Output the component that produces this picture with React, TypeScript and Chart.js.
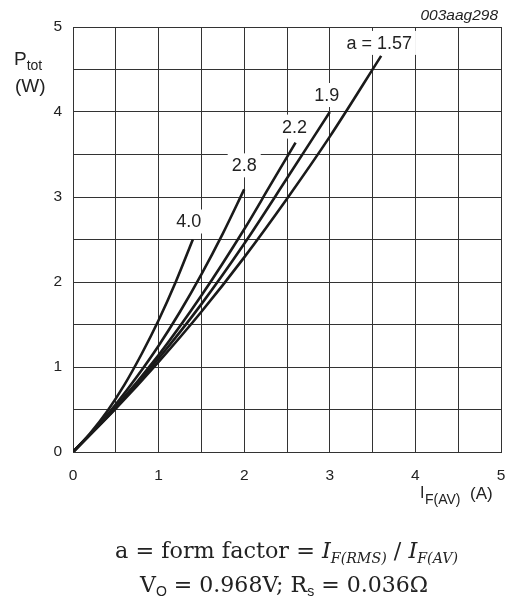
import React, { useEffect, useRef } from "react";
import { Chart, registerables } from "chart.js";

Chart.register(...registerables);

// Curve data (I_F(AV) in A, P_tot in W)
const current40 = [0, 0.2, 0.4, 0.6, 0.8, 1.0, 1.2, 1.4];
const power40 = [0, 0.22, 0.48, 0.79, 1.15, 1.55, 2.0, 2.5];
const current28 = [0, 0.25, 0.5, 0.75, 1.0, 1.25, 1.5, 1.75, 2.0];
const power28 = [0, 0.26, 0.56, 0.89, 1.25, 1.65, 2.09, 2.57, 3.09];
const current22 = [0, 0.5, 1.0, 1.5, 2.0, 2.3, 2.6];
const power22 = [0, 0.53, 1.14, 1.84, 2.62, 3.13, 3.64];
const current19 = [0, 0.5, 1.0, 1.5, 2.0, 2.5, 3.0];
const power19 = [0, 0.52, 1.1, 1.74, 2.45, 3.22, 4.0];
const current157 = [0, 0.5, 1.0, 1.5, 2.0, 2.5, 3.0, 3.6];
const power157 = [0, 0.51, 1.06, 1.65, 2.29, 2.98, 3.71, 4.66];

const curveLabels = ["4.0", "2.8", "2.2", "1.9", "a = 1.57"];
const xTickValues = [0, 1, 2, 3, 4, 5];
const yTickValues = [0, 1, 2, 3, 4, 5];

// label offsets (px) from each curve's end point
const labelOffsets = [
  [-4, -18],
  [0, -24],
  [-1, -16],
  [-3, -17],
  [-2, -13],
];

const SANS = "'Liberation Sans', Arial, sans-serif";
const SERIF = "'DejaVu Serif', 'Liberation Serif', serif";

function pts(xs: number[], ys: number[]) {
  return xs.map((x, i) => ({ x, y: ys[i] }));
}

const overlayPlugin = {
  id: "overlay",
  afterDatasetsDraw(chart: any) {
    const ctx = chart.ctx as CanvasRenderingContext2D;
    const area = chart.chartArea;
    ctx.save();
    ctx.font = `18px ${SANS}`;
    ctx.textAlign = "center";
    ctx.textBaseline = "middle";
    chart.data.datasets.forEach((ds: any, i: number) => {
      const meta = chart.getDatasetMeta(i);
      const last = meta.data[meta.data.length - 1];
      const cx = last.x + labelOffsets[i][0];
      const cy = last.y + labelOffsets[i][1];
      const w = ctx.measureText(curveLabels[i]).width + 8;
      let top = cy - 12;
      if (top < area.top + 1) top = area.top + 1;
      ctx.fillStyle = "#ffffff";
      ctx.fillRect(cx - w / 2, top, w, cy + 12 - top);
      ctx.fillStyle = "#222";
      ctx.fillText(curveLabels[i], cx, cy + 1);
    });
    ctx.restore();
  },
  afterDraw(chart: any) {
    const ctx = chart.ctx as CanvasRenderingContext2D;
    ctx.save();
    ctx.fillStyle = "#222";
    ctx.textBaseline = "alphabetic";
    ctx.textAlign = "left";

    // Figure code
    ctx.font = `italic 15.5px ${SANS}`;
    ctx.textAlign = "right";
    ctx.fillText("003aag298", 498, 20);
    ctx.textAlign = "left";

    // Y axis title
    ctx.font = `19px ${SANS}`;
    ctx.fillText("P", 14, 65);
    const pw = ctx.measureText("P").width;
    ctx.font = `14px ${SANS}`;
    ctx.fillText("tot", 14 + pw, 70);
    ctx.font = `19px ${SANS}`;
    ctx.fillText("(W)", 15, 92);

    // X axis title
    ctx.font = `16px ${SANS}`;
    let x = 420;
    ctx.fillText("I", x, 498);
    x += ctx.measureText("I").width + 0.5;
    ctx.font = `14px ${SANS}`;
    ctx.fillText("F(AV)", x, 504);
    ctx.font = `17px ${SANS}`;
    ctx.fillText("(A)", 470, 499);

    // Formula lines
    const big = 22;
    const sub = 14;
    const parts1: [string, string, number][] = [
      ["a = form factor = ", `${big}px ${SERIF}`, 0],
      ["I", `italic ${big}px ${SERIF}`, 0],
      ["F(RMS)", `italic ${sub}px ${SERIF}`, 5],
      [" / ", `${big}px ${SERIF}`, 0],
      ["I", `italic ${big}px ${SERIF}`, 0],
      ["F(AV)", `italic ${sub}px ${SERIF}`, 5],
    ];
    const parts2: [string, string, number][] = [
      ["V", `${big}px ${SERIF}`, 0],
      ["O", `${sub}px ${SANS}`, 4],
      [" = 0.968V; R", `${big}px ${SERIF}`, 0],
      ["s", `${sub}px ${SANS}`, 4],
      [" = 0.036Ω", `${big}px ${SERIF}`, 0],
    ];
    const drawLine = (parts: [string, string, number][], left: number, right: number, base: number) => {
      let total = 0;
      parts.forEach(([t, f]) => {
        ctx.font = f;
        total += ctx.measureText(t).width;
      });
      const sx = (right - left) / total;
      ctx.save();
      ctx.translate(left, base);
      ctx.scale(sx, 1);
      let px = 0;
      parts.forEach(([t, f, dy]) => {
        ctx.font = f;
        ctx.fillText(t, px, dy);
        px += ctx.measureText(t).width;
      });
      ctx.restore();
    };
    drawLine(parts1, 115, 458, 558);
    drawLine(parts2, 140, 428, 592);
    ctx.restore();
  },
};

export default function App() {
  const ref = useRef<HTMLCanvasElement | null>(null);
  useEffect(() => {
    if (!ref.current) return;
    const lineStyle = {
      borderColor: "#1a1a1a",
      borderWidth: 2.6,
      pointRadius: 0,
      fill: false,
      cubicInterpolationMode: "monotone" as const,
    };
    const chart = new Chart(ref.current, {
      type: "line",
      data: {
        datasets: [
          { label: curveLabels[0], data: pts(current40, power40), ...lineStyle },
          { label: curveLabels[1], data: pts(current28, power28), ...lineStyle },
          { label: curveLabels[2], data: pts(current22, power22), ...lineStyle },
          { label: curveLabels[3], data: pts(current19, power19), ...lineStyle },
          { label: curveLabels[4], data: pts(current157, power157), ...lineStyle },
        ],
      },
      options: {
        animation: false,
        responsive: false,
        devicePixelRatio: 1,
        layout: { padding: { top: 27, right: 7, left: 0, bottom: 0 } },
        plugins: { legend: { display: false }, tooltip: { enabled: false } },
        scales: {
          x: {
            type: "linear",
            min: 0,
            max: 5,
            afterFit: (s: any) => {
              s.height = 156;
              s.paddingLeft = 0;
              s.paddingRight = 0;
            },
            ticks: {
              stepSize: 0.5,
              autoSkip: false,
              maxRotation: 0,
              padding: 14,
              color: "#222",
              font: { family: SANS, size: 15.5 },
              callback: (v: any) => (xTickValues.includes(Number(v)) ? String(v) : ""),
            },
            grid: { color: "#333", lineWidth: 1, drawTicks: false },
            border: { color: "#333", width: 1 },
          },
          y: {
            type: "linear",
            min: 0,
            max: 5,
            afterFit: (s: any) => {
              s.width = 73;
              s.paddingTop = 0;
              s.paddingBottom = 0;
            },
            ticks: {
              stepSize: 0.5,
              autoSkip: false,
              padding: 11,
              color: "#222",
              font: { family: SANS, size: 15.5 },
              callback: (v: any) => (yTickValues.includes(Number(v)) ? String(v) : ""),
            },
            grid: { color: "#333", lineWidth: 1, drawTicks: false },
            border: { color: "#333", width: 1 },
          },
        },
      },
      plugins: [overlayPlugin],
    });
    return () => chart.destroy();
  }, []);
  return (
    <div style={{ position: "fixed", left: 0, top: 0, width: 508, height: 608, background: "#fff" }}>
      <canvas ref={ref} width={508} height={608} style={{ width: 508, height: 608 }} />
    </div>
  );
}
